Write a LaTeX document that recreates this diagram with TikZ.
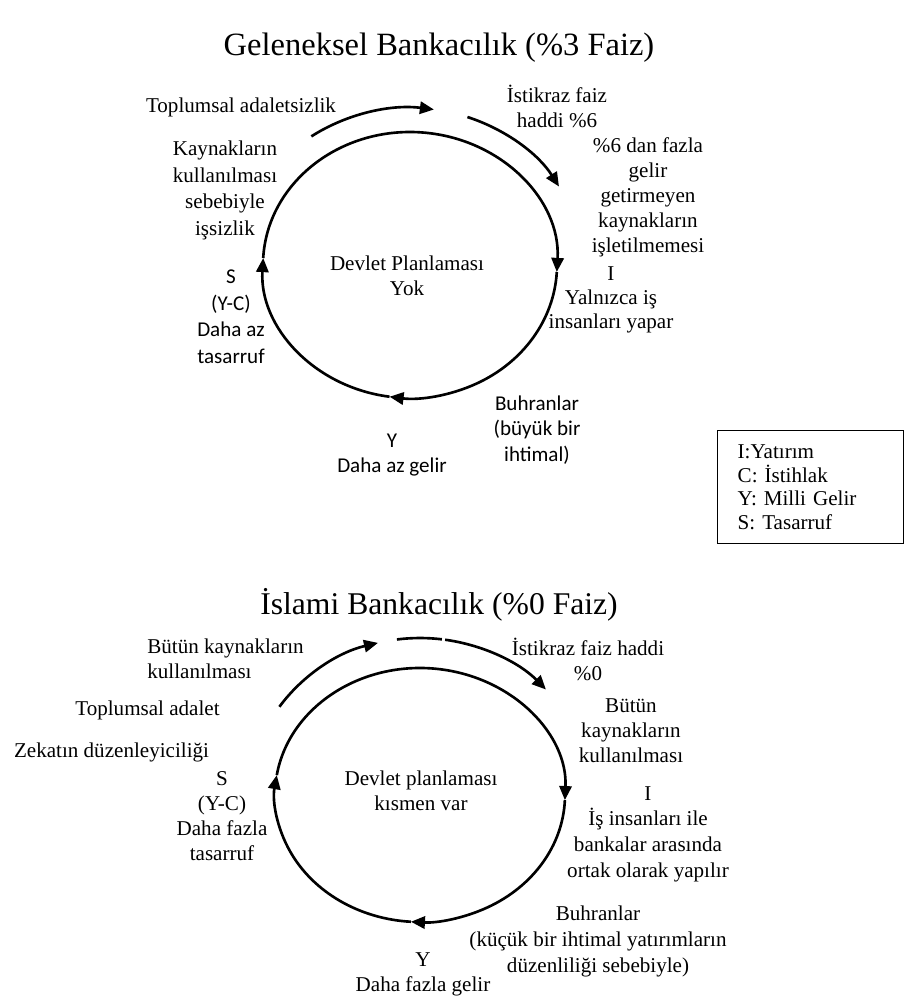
\documentclass[tikz,border=0pt]{standalone}
\usepackage{fontspec}
\setmainfont{Liberation Serif}
\newfontfamily\calfont{Carlito}
\usetikzlibrary{arrows.meta}

\begin{document}
\frenchspacing
\begin{tikzpicture}[x=0.02cm,y=0.02cm,
        lab/.style={align=center,inner sep=0pt,anchor=base,font=\fontsize{12}{14.2}\selectfont},
        sanslab/.style={lab,font=\calfont\fontsize{12}{15}\selectfont},
        heading/.style={inner sep=0pt,anchor=base,font=\fontsize{18.5}{22}\selectfont},
        cyc/.style={line width=1.5pt,-{Triangle[length=8pt,width=7pt]}}]
        \useasboundingbox (0,0) rectangle (905,-998);

        % ================== Geleneksel bankacilik ==================
        \node[heading] (title1) at (439,-55) {Geleneksel Bankacılık (\%3 Faiz)};
        \coordinate (c1) at (410,-265);

        % circle arcs
        \draw[cyc] ([shift={(262:147 and 133)}]c1) arc[start angle=262, end angle=177, x radius=147, y radius=133];
        \draw[cyc] ([shift={(177:147 and 133)}]c1) arc[start angle=177, end angle=-3, x radius=147, y radius=133];
        \draw[cyc] ([shift={(-3:147 and 133)}]c1) arc[start angle=-3, end angle=-98, x radius=147, y radius=133];

        % outer arcs
        \draw[cyc] ([shift={(125:172 and 157)}]c1) arc[start angle=125, end angle=82, x radius=172, y radius=157];
        \draw[cyc] ([shift={(70.5:172 and 157)}]c1) arc[start angle=70.5, end angle=30, x radius=172, y radius=157];

        % labels (placed at the baseline of their last line)
        \node[lab,font=\fontsize{12}{13.7}\selectfont] (topCenter) at (407,-295) {Devlet Planlaması\\Yok};
        \node[lab] (topLab1) at (241,-112) {Toplumsal adaletsizlik};
        \node[lab,font=\fontsize{12}{15}\selectfont] (topLab2) at (225,-235) {Kaynakların\\kullanılması\\sebebiyle\\işsizlik};
        \node[lab] (topLab3) at (557,-127) {İstikraz faiz\\haddi \%6};
        \node[lab] (topLab4) at (648,-252) {\%6 dan fazla\\gelir\\getirmeyen\\kaynakların\\işletilmemesi};
        \node[lab,font=\fontsize{12}{13.6}\selectfont] (topLab5) at (611,-328) {I\\Yalnızca iş\\insanları yapar};
        \node[sanslab] (topS) at (231,-363) {S\\(Y-C)\\Daha az\\tasarruf};
        \node[sanslab,font=\calfont\fontsize{12}{14.2}\selectfont] (topY) at (392,-472) {Y\\Daha az gelir};
        \node[sanslab,font=\calfont\fontsize{12}{14.5}\selectfont] (topBuhran) at (537,-461) {Buhranlar\\(büyük bir\\ihtimal)};

        % legend
        \node[draw,line width=0.8pt,anchor=north west,align=left,inner xsep=0.4cm,text width=2.92cm,
              minimum height=2.26cm,font=\fontsize{12}{13.6}\selectfont] (legend) at (717,-430)
              {I:Yatırım\\C: İstihlak\\Y: Milli Gelir\\S: Tasarruf};

        % ================== Islami bankacilik ==================
        \node[heading,font=\fontsize{18}{22}\selectfont] (title2) at (439,-614) {İslami Bankacılık (\%0 Faiz)};
        \coordinate (c2) at (420,-795);

        % circle arcs
        \draw[cyc] ([shift={(266.4:145 and 127)}]c2) arc[start angle=266.4, end angle=171, x radius=145, y radius=127];
        \draw[cyc] ([shift={(171:145 and 127)}]c2) arc[start angle=171, end angle=-2.3, x radius=145, y radius=127];
        \draw[cyc] ([shift={(-2.3:145 and 127)}]c2) arc[start angle=-2.3, end angle=-93.6, x radius=145, y radius=127];

        % outer arcs
        \draw[cyc] ([shift={(145.8:170 and 157)}]c2) arc[start angle=145.8, end angle=104.3, x radius=170, y radius=157];
        \draw[line width=1.5pt] ([shift={(97.8:170 and 157)}]c2) arc[start angle=97.8, end angle=82.6, x radius=170, y radius=157];
        \draw[cyc] ([shift={(81.5:170 and 157)}]c2) arc[start angle=81.5, end angle=42.2, x radius=170, y radius=157];

        % labels
        \node[lab] (botCenter) at (421,-810) {Devlet planlaması\\kısmen var};
        \node[lab,align=left,anchor=base west] (botLab1) at (147,-678) {Bütün kaynakların\\kullanılması};
        \node[lab] (botLab2) at (147.5,-715) {Toplumsal adalet};
        \node[lab] (botLab3) at (111.5,-757) {Zekatın düzenleyiciliği};
        \node[lab] (botS) at (222,-860) {S\\(Y-C)\\Daha fazla\\tasarruf};
        \node[lab] (botLab4) at (588,-680) {İstikraz faiz haddi\\\%0};
        \node[lab,font=\fontsize{12}{14}\selectfont] (botLab5) at (631,-762) {Bütün\\kaynakların\\kullanılması};
        \node[lab,font=\fontsize{12}{14.6}\selectfont] (botLab6) at (648,-877) {I\\İş insanları ile\\bankalar arasında\\ortak olarak yapılır};
        \node[lab,font=\fontsize{12}{14.8}\selectfont] (botBuhran) at (598,-972) {Buhranlar\\(küçük bir ihtimal yatırımların\\düzenliliği sebebiyle)};
        \node[lab] (botY) at (423,-991) {Y\\Daha fazla gelir};
\end{tikzpicture}
\end{document}
